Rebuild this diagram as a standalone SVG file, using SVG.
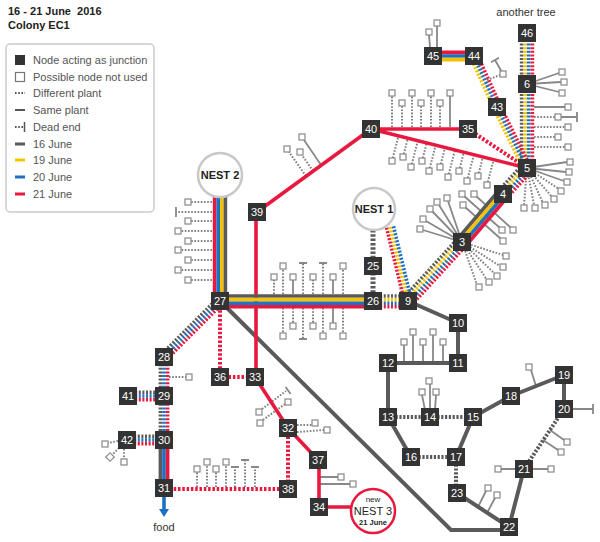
<svg xmlns="http://www.w3.org/2000/svg" width="600" height="542" viewBox="0 0 600 542">
<style>
text{font-family:"Liberation Sans",Arial,sans-serif}
.t{font-size:11px;font-weight:bold;fill:#222}
.lg{font-size:11px;fill:#555}
.n rect{fill:#333}
.n text{fill:#fff;font-size:11px;text-anchor:middle}
.st{fill:none;stroke-width:3.6}
.d{stroke-dasharray:2 1.6}
.G{stroke:#5a5a5a}.Y{stroke:#f5c200}.B{stroke:#1f70c0}.R{stroke:#e8193f}
.e{fill:none;stroke:#5a5a5a;stroke-width:4}
.ed{stroke-dasharray:2.2 1.6}
.rl{fill:none;stroke:#e8193f;stroke-width:3.6}
.rd{stroke-dasharray:2.5 1.8;stroke-width:4}
.tl{fill:none;stroke:#888;stroke-width:1.8}
.td{fill:none;stroke:#808080;stroke-width:2;stroke-dasharray:1.6 1.6}
.sq{fill:#fff;stroke:#888;stroke-width:1.2}
.nest{fill:#fff;stroke:#c8c8c8;stroke-width:2.5}
.nl{font-size:11px;font-weight:bold;fill:#222;text-anchor:middle}
</style>
<defs>
<rect id="s" class="sq" x="-3" y="-3" width="6" height="6"/>
</defs>

<g id="title">
<text class="t" x="8" y="15" xml:space="preserve">16 - 21 June  2016</text>
<text class="t" x="8" y="29">Colony EC1</text>
</g>

<g id="legend">
<rect x="6" y="44" width="148" height="168" rx="4" fill="#fff" stroke="#ccc" stroke-width="1.5"/>
<rect x="15" y="55" width="10" height="10" fill="#333"/>
<rect x="15.5" y="72.5" width="9" height="9" fill="#fff" stroke="#777" stroke-width="1.2"/>
<path d="M15,93H25" stroke="#555" stroke-width="2" stroke-dasharray="1.6 1.6"/>
<path d="M15,110H25" stroke="#555" stroke-width="2"/>
<path d="M15,127H23" stroke="#555" stroke-width="2" stroke-dasharray="1.6 1.6"/>
<path d="M24.5,122V132" stroke="#555" stroke-width="1.5"/>
<path d="M15,144H25" stroke="#5a5a5a" stroke-width="3"/>
<path d="M15,160H25" stroke="#f5c200" stroke-width="3"/>
<path d="M15,177H25" stroke="#1f70c0" stroke-width="3"/>
<path d="M15,194H25" stroke="#e8193f" stroke-width="3"/>
<text class="lg" x="33" y="64">Node acting as junction</text>
<text class="lg" x="33" y="81">Possible node not used</text>
<text class="lg" x="33" y="97">Different plant</text>
<text class="lg" x="33" y="114">Same plant</text>
<text class="lg" x="33" y="131">Dead end</text>
<text class="lg" x="33" y="148">16 June</text>
<text class="lg" x="33" y="164">19 June</text>
<text class="lg" x="33" y="181">20 June</text>
<text class="lg" x="33" y="198">21 June</text>
</g>

<g id="unused-nodes">
<path class="td" d="M212,202H191 M212,212H176 M212,221H191 M212,231H181 M212,241H191 M212,250H181 M212,260H191 M212,270H181 M212,280H191"/>
<path class="tl" d="M176,207V217"/>
<use href="#s" x="188" y="202"/><use href="#s" x="188" y="221"/><use href="#s" x="178" y="231"/><use href="#s" x="188" y="241"/><use href="#s" x="178" y="250"/><use href="#s" x="188" y="260"/><use href="#s" x="178" y="270"/><use href="#s" x="188" y="280"/>

<path class="td" d="M274,294V280 M283,294V269 M303,294V263 M313,294V280 M323,294V263 M343,294V269"/>
<path class="tl" d="M293,294V280 M333,294V280 M299,263H307 M319,263H327"/>
<use href="#s" x="274" y="277"/><use href="#s" x="283" y="266"/><use href="#s" x="293" y="277"/><use href="#s" x="313" y="277"/><use href="#s" x="333" y="277"/><use href="#s" x="343" y="266"/>
<path class="td" d="M283,308V333 M293,308V323 M303,308V339 M313,308V323 M323,308V333 M343,308V333"/>
<path class="tl" d="M333,308V323 M299,339H307"/>
<use href="#s" x="283" y="336"/><use href="#s" x="293" y="326"/><use href="#s" x="313" y="326"/><use href="#s" x="323" y="336"/><use href="#s" x="333" y="326"/><use href="#s" x="343" y="336"/>

<path class="td" d="M392,127V96 M402,127V106 M412,127V96 M421,127V106 M431,127V96 M440,127V106"/>
<path class="tl" d="M450,127V96"/>
<use href="#s" x="392" y="93"/><use href="#s" x="402" y="103"/><use href="#s" x="412" y="93"/><use href="#s" x="421" y="103"/><use href="#s" x="431" y="93"/><use href="#s" x="440" y="103"/><use href="#s" x="450" y="93"/>

<path class="td" d="M392.8,158L398.5,136 M403.8,154L407.9,138 M411.8,164L417.8,141 M422.8,158L426.7,143 M429.8,168L435.7,145 M440.8,164L445.1,147.5 M448.8,174L455,150 M459.8,168L463.9,152 M467.8,178L473.8,155 M478.8,173L482.9,157 M487.8,182L493.6,160"/>
<use href="#s" x="392" y="161"/><use href="#s" x="403" y="157"/><use href="#s" x="411" y="167"/><use href="#s" x="422" y="161"/><use href="#s" x="429" y="171"/><use href="#s" x="440" y="167"/><use href="#s" x="448" y="177"/><use href="#s" x="459" y="171"/><use href="#s" x="467" y="181"/><use href="#s" x="478" y="176"/><use href="#s" x="487" y="185"/>

<path class="tl" d="M527,168L567,162 M527,168L566,172 M527,168L564,181"/>
<path class="td" d="M527,168L559,189 M527,168L552,197 M527,168L543,203 M527,168L534,205 M527,168L524,205"/>
<use href="#s" x="570" y="162"/><use href="#s" x="569" y="172"/><use href="#s" x="567" y="182"/><use href="#s" x="561" y="191"/><use href="#s" x="554" y="199"/><use href="#s" x="545" y="205"/><use href="#s" x="535" y="208"/><use href="#s" x="524" y="208"/>

<path class="tl" d="M534,107H565 M561,117H577 M577,112V122"/>
<path class="td" d="M534,117H555 M534,127H565 M534,137H555 M534,147H565"/>
<use href="#s" x="568" y="107"/><use href="#s" x="558" y="117"/><use href="#s" x="568" y="127"/><use href="#s" x="558" y="137"/><use href="#s" x="568" y="147"/>

<path class="tl" d="M527,84L559,73 M527,84L561,82 M527,84L559,92"/>
<use href="#s" x="562" y="72"/><use href="#s" x="564" y="82"/><use href="#s" x="562" y="93"/>

<path class="td" d="M487,80L500,75"/>
<path class="tl" d="M503,74L495,60 M491,62.3L499,57.7"/>
<use href="#s" x="503" y="74"/>

<path class="tl" d="M430,47L429,35 M437,47V26"/>
<use href="#s" x="429" y="32"/><use href="#s" x="437" y="23"/>

<path class="tl" d="M462,242L423,230 M462,242L426,221 M462,242L432,211 M462,242L439,205 M462,242L448,201"/>
<use href="#s" x="420" y="229"/><use href="#s" x="423" y="219"/><use href="#s" x="430" y="209"/><use href="#s" x="437" y="202"/><use href="#s" x="447" y="198"/>
<path class="tl" d="M464,196L500,228 M476,196L511,228 M465,207L501,239"/>
<use href="#s" x="462" y="194"/><use href="#s" x="474" y="194"/><use href="#s" x="463" y="205"/><use href="#s" x="502" y="230"/><use href="#s" x="513" y="230"/><use href="#s" x="503" y="241"/>
<path class="td" d="M462,242L503,255 M462,242L500,266 M462,242L495,274 M462,242L487,280 M462,242L477,285"/>
<use href="#s" x="506" y="256"/><use href="#s" x="503" y="267"/><use href="#s" x="497" y="276"/><use href="#s" x="489" y="282"/><use href="#s" x="479" y="287"/>

<path class="tl" d="M321,165L304,140"/>
<path class="td" d="M313,171L302,155 M306,176L289,152"/>
<use href="#s" x="302" y="137"/><use href="#s" x="300" y="152"/><use href="#s" x="287" y="149"/>

<path class="tl" d="M404,362V345 M413,362V335 M423,362V345 M433,362V335 M443,362V345"/>
<use href="#s" x="404" y="342"/><use href="#s" x="413" y="332"/><use href="#s" x="423" y="342"/><use href="#s" x="433" y="332"/><use href="#s" x="443" y="342"/>

<path class="tl" d="M425,410L422,395 M430,410V384 M435,410L436,395"/>
<use href="#s" x="422" y="392"/><use href="#s" x="429" y="381"/><use href="#s" x="436" y="392"/>

<path class="tl" d="M536,386L531,370 M573,409H593 M593,404V414 M550,430L564,440 M543,440L558,450 M515,469H501 M533,469H548 M478,507L486,491 M487,513L495,498"/>
<use href="#s" x="529" y="367"/><use href="#s" x="567" y="442"/><use href="#s" x="561" y="452"/><use href="#s" x="498" y="469"/><use href="#s" x="551" y="469"/><use href="#s" x="488" y="488"/><use href="#s" x="497" y="495"/>

<path class="td" d="M262,409L286,391 M263,420L285,404 M297,425H312 M297,432L324,430"/>
<path class="tl" d="M285.6,387L290.6,394"/>
<use href="#s" x="259" y="412"/><use href="#s" x="260" y="423"/><use href="#s" x="288" y="402"/><use href="#s" x="315" y="423"/><use href="#s" x="327" y="430"/>

<path class="tl" d="M320,477H338 M320,484H350"/>
<use href="#s" x="341" y="477"/><use href="#s" x="353" y="484"/>

<path class="td" d="M197,487V472 M207,487V465 M216,487V472 M226,487V465 M235,487V467 M245,487V460 M255,487V467"/>
<path class="tl" d="M231,467H239 M241,460H249 M251,467H259"/>
<use href="#s" x="197" y="469"/><use href="#s" x="207" y="462"/><use href="#s" x="216" y="469"/><use href="#s" x="226" y="462"/>

<path class="td" d="M169,377H186 M118,441L108,443 M124,449V459 M119,448L112,455"/>
<use href="#s" x="189" y="377"/><use href="#s" x="105" y="444"/><use href="#s" x="124" y="462"/>
<rect class="sq" x="-3" y="-3" width="6" height="6" transform="translate(110,457) rotate(45)"/>
</g>

<g id="connectors">
<path class="e" d="M220,301L451,530H509"/>
<path class="e" d="M408,301L458,323 M458,323V363 M458,363H388 M388,363V417 M388,417L411,457 M473,417L456,457 M473,417L511,396 M511,396L564,375 M564,375V409 M524,469L509,527 M457,493L509,527"/>
<path class="e ed" d="M388,417H473 M411,457H456 M564,409L524,469 M456,457V493"/>
<path class="e ed" d="M373,230V301" style="stroke-width:5;stroke-dasharray:2.5 1.8"/>

<path class="rl" d="M256,212V377"/>
<path class="rl" d="M257,212L371,129 M371,129H468 M371,129L527,168 M255,377L288,428 M288,428L318,460 M319,460V507 M319,507H352"/>
<path class="rl rd" d="M468,129L527,168 M220,306V377 M220,377H255 M288,428V489 M288,489H164"/>

<path class="st R" d="M214.6,190V301"/>
<path class="st B" d="M218.2,190V301"/>
<path class="st Y" d="M221.8,190V301"/>
<path class="st G" d="M225.4,190V301"/>
<path class="st G" d="M220,296H373"/>
<path class="st Y" d="M220,299.6H373"/>
<path class="st B" d="M220,303.2H373"/>
<path class="st R" d="M220,306.8H373"/>
<path class="st d G" d="M373,296H408"/>
<path class="st d Y" d="M373,299.6H408"/>
<path class="st d B" d="M373,303.2H408"/>
<path class="st d R" d="M373,306.8H408"/>
<path class="st d G" d="M404,297.4L458,238.4"/>
<path class="st d Y" d="M406.7,299.8L460.7,240.8"/>
<path class="st d B" d="M409.3,302.2L463.3,243.2"/>
<path class="st d R" d="M412,304.6L466,245.6"/>
<path class="st G" d="M458,238.5L499,190.5"/>
<path class="st Y" d="M460.7,240.8L501.7,192.8"/>
<path class="st B" d="M463.3,243.2L504.3,195.2"/>
<path class="st R" d="M466,245.5L507,197.5"/>
<path class="st d G" d="M499,190.3L523,164.3"/>
<path class="st d Y" d="M501.7,192.8L525.7,166.8"/>
<path class="st d B" d="M504.3,195.2L528.3,169.2"/>
<path class="st d R" d="M507,197.7L531,171.7"/>
<path class="st d G" d="M521.6,168V33"/>
<path class="st d Y" d="M525.2,168V33"/>
<path class="st d B" d="M528.8,168V33"/>
<path class="st d R" d="M532.4,168V33"/>
<path class="st d Y" d="M523.8,169.6L493.8,108.6L470.8,57.6"/>
<path class="st d B" d="M527,168L497,107L474,56"/>
<path class="st d R" d="M530.2,166.4L500.2,105.4L477.2,54.4"/>
<path class="st R" d="M433,52.4H474"/>
<path class="st B" d="M433,56H474"/>
<path class="st Y" d="M433,59.6H474"/>
<path class="st d R" d="M386.5,227.7L404.5,301.7"/>
<path class="st d Y" d="M390,227L408,301"/>
<path class="st d B" d="M393.5,226.3L411.5,300.3"/>
<path class="st d G" d="M217.5,298.5L161.5,354.5"/>
<path class="st d B" d="M220,301L164,357"/>
<path class="st d R" d="M222.5,303.5L166.5,359.5"/>
<path class="st d G" d="M160.4,357V440"/>
<path class="st d B" d="M164,357V440"/>
<path class="st d R" d="M167.6,357V440"/>
<path class="st d G" d="M128,392.4H164"/>
<path class="st d B" d="M128,396H164"/>
<path class="st d R" d="M128,399.6H164"/>
<path class="st d G" d="M127,436.4H164"/>
<path class="st d B" d="M127,440H164"/>
<path class="st d R" d="M127,443.6H164"/>
<path class="st G" d="M160.4,440V488"/>
<path class="st B" d="M164,440V488"/>
<path class="st R" d="M167.6,440V488"/>
<path class="st B" d="M164,488V510"/>
<polygon points="159,509 169,509 164,517" fill="#1f70c0"/>
</g>

<g id="nest2"><circle class="nest" cx="220" cy="175" r="22"/><text class="nl" x="220" y="179">NEST 2</text></g>
<g id="nest1"><circle class="nest" cx="374" cy="209" r="21"/><text class="nl" x="374" y="213">NEST 1</text></g>
<g id="nest3"><circle cx="373" cy="511" r="22" fill="#fff" stroke="#e8193f" stroke-width="2.5"/>
<text x="373" y="502" font-size="8" fill="#222" text-anchor="middle">new</text>
<text x="373" y="515" font-size="11" fill="#222" text-anchor="middle">NEST 3</text>
<text x="373" y="525" font-size="7.5" font-weight="bold" fill="#222" text-anchor="middle">21 June</text></g>

<g id="n46" class="n"><rect x="518" y="24" width="18" height="18"/><text x="527" y="37">46</text></g>
<g id="n45" class="n"><rect x="424" y="47" width="18" height="18"/><text x="433" y="60">45</text></g>
<g id="n44" class="n"><rect x="465" y="47" width="18" height="18"/><text x="474" y="60">44</text></g>
<g id="n6" class="n"><rect x="518" y="75" width="18" height="18"/><text x="527" y="88">6</text></g>
<g id="n43" class="n"><rect x="488" y="98" width="18" height="18"/><text x="497" y="111">43</text></g>
<g id="n40" class="n"><rect x="362" y="120" width="18" height="18"/><text x="371" y="133">40</text></g>
<g id="n35" class="n"><rect x="459" y="120" width="18" height="18"/><text x="468" y="133">35</text></g>
<g id="n5" class="n"><rect x="518" y="159" width="18" height="18"/><text x="527" y="172">5</text></g>
<g id="n4" class="n"><rect x="494" y="185" width="18" height="18"/><text x="503" y="198">4</text></g>
<g id="n3" class="n"><rect x="453" y="233" width="18" height="18"/><text x="462" y="246">3</text></g>
<g id="n39" class="n"><rect x="248" y="203" width="18" height="18"/><text x="257" y="216">39</text></g>
<g id="n25" class="n"><rect x="364" y="257" width="18" height="18"/><text x="373" y="270">25</text></g>
<g id="n26" class="n"><rect x="364" y="292" width="18" height="18"/><text x="373" y="305">26</text></g>
<g id="n9" class="n"><rect x="399" y="292" width="18" height="18"/><text x="408" y="305">9</text></g>
<g id="n27" class="n"><rect x="211" y="292" width="18" height="18"/><text x="220" y="305">27</text></g>
<g id="n10" class="n"><rect x="449" y="314" width="18" height="18"/><text x="458" y="327">10</text></g>
<g id="n12" class="n"><rect x="379" y="354" width="18" height="18"/><text x="388" y="367">12</text></g>
<g id="n11" class="n"><rect x="449" y="354" width="18" height="18"/><text x="458" y="367">11</text></g>
<g id="n28" class="n"><rect x="155" y="348" width="18" height="18"/><text x="164" y="361">28</text></g>
<g id="n36" class="n"><rect x="211" y="368" width="18" height="18"/><text x="220" y="381">36</text></g>
<g id="n33" class="n"><rect x="246" y="368" width="18" height="18"/><text x="255" y="381">33</text></g>
<g id="n41" class="n"><rect x="119" y="387" width="18" height="18"/><text x="128" y="400">41</text></g>
<g id="n29" class="n"><rect x="155" y="387" width="18" height="18"/><text x="164" y="400">29</text></g>
<g id="n13" class="n"><rect x="379" y="408" width="18" height="18"/><text x="388" y="421">13</text></g>
<g id="n14" class="n"><rect x="421" y="408" width="18" height="18"/><text x="430" y="421">14</text></g>
<g id="n15" class="n"><rect x="464" y="408" width="18" height="18"/><text x="473" y="421">15</text></g>
<g id="n18" class="n"><rect x="502" y="387" width="18" height="18"/><text x="511" y="400">18</text></g>
<g id="n19" class="n"><rect x="555" y="366" width="18" height="18"/><text x="564" y="379">19</text></g>
<g id="n20" class="n"><rect x="555" y="400" width="18" height="18"/><text x="564" y="413">20</text></g>
<g id="n32" class="n"><rect x="279" y="419" width="18" height="18"/><text x="288" y="432">32</text></g>
<g id="n42" class="n"><rect x="118" y="431" width="18" height="18"/><text x="127" y="444">42</text></g>
<g id="n30" class="n"><rect x="155" y="431" width="18" height="18"/><text x="164" y="444">30</text></g>
<g id="n16" class="n"><rect x="402" y="448" width="18" height="18"/><text x="411" y="461">16</text></g>
<g id="n17" class="n"><rect x="447" y="448" width="18" height="18"/><text x="456" y="461">17</text></g>
<g id="n37" class="n"><rect x="309" y="451" width="18" height="18"/><text x="318" y="464">37</text></g>
<g id="n21" class="n"><rect x="515" y="460" width="18" height="18"/><text x="524" y="473">21</text></g>
<g id="n31" class="n"><rect x="155" y="479" width="18" height="18"/><text x="164" y="492">31</text></g>
<g id="n38" class="n"><rect x="279" y="480" width="18" height="18"/><text x="288" y="493">38</text></g>
<g id="n23" class="n"><rect x="448" y="484" width="18" height="18"/><text x="457" y="497">23</text></g>
<g id="n34" class="n"><rect x="310" y="498" width="18" height="18"/><text x="319" y="511">34</text></g>
<g id="n22" class="n"><rect x="500" y="518" width="18" height="18"/><text x="509" y="531">22</text></g>

<g id="labels">
<text x="526" y="16" font-size="11" fill="#333" text-anchor="middle">another tree</text>
<text x="164" y="531" font-size="11" fill="#333" text-anchor="middle">food</text>
</g>
</svg>
